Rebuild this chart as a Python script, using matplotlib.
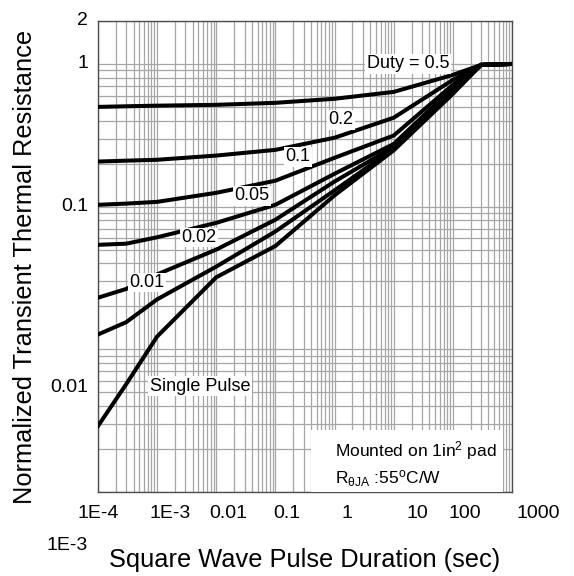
import matplotlib.pyplot as plt
from matplotlib.ticker import LogLocator
from matplotlib.patches import Rectangle
from matplotlib.transforms import blended_transform_factory

plt.rcParams['font.family'] = ['Liberation Sans', 'DejaVu Sans']
plt.rcParams['mathtext.default'] = 'regular'

# pulse duration (sec)
t = [1e-4, 3e-4, 1e-3, 1e-2, 0.1, 1, 10, 100, 300, 1000]

# normalized transient thermal resistance per duty cycle
z_d50 = [0.50, 0.505, 0.51, 0.517, 0.534, 0.57, 0.637, 0.838, 0.985, 1.0]
z_d20 = [0.207, 0.21, 0.213, 0.228, 0.25, 0.304, 0.42, 0.773, 0.985, 1.0]
z_d10 = [0.103, 0.105, 0.108, 0.125, 0.152, 0.22, 0.315, 0.714, 0.985, 1.0]
z_d05 = [0.054, 0.055, 0.061, 0.077, 0.103, 0.17, 0.275, 0.68, 0.985, 1.0]
z_d02 = [0.023, 0.0265, 0.0335, 0.050, 0.081, 0.15, 0.262, 0.658, 0.985, 1.0]
z_d01 = [0.0127, 0.0155, 0.0224, 0.038, 0.067, 0.13, 0.255, 0.637, 0.985, 1.0]
z_single = [0.0029, 0.0057, 0.0123, 0.032, 0.053, 0.12, 0.248, 0.617, 0.985, 1.0]

# curve labels and where they sit
curve_text = ['Duty = 0.5', '0.2', '0.1', '0.05', '0.02', '0.01', 'Single Pulse']
curve_x = [17.5, 1.29, 0.241, 0.0402, 0.0051, 6.75e-4, 0.0053]
curve_y = [1.0, 0.406, 0.224, 0.119, 0.0608, 0.0294, 0.00552]

# axis labels as printed
xtick_text = ['1E-4', '1E-3', '0.01', '0.1', '1', '10', '100', '1000']
xtick_at = [1e-4, 1.65e-3, 0.0158, 0.157, 1.62, 24.8, 161, 2750]
ytick_text = ['2', '1', '0.1', '0.01', '1E-3']
ytick_at = [2, 1, 0.1, 0.0054, 0.00042]

fig = plt.figure(figsize=(5.74, 5.76), dpi=100)
ax = fig.add_axes([98/574, 1-492/576, 414/574, 471/576])

ax.set_xscale('log')
ax.set_yscale('log')
ax.set_xlim(1e-4, 1e3)
ax.set_ylim(1e-3, 2)

ax.xaxis.set_major_locator(LogLocator(base=10, numticks=20))
ax.xaxis.set_minor_locator(LogLocator(base=10, subs=range(2, 10), numticks=20))
ax.yaxis.set_major_locator(LogLocator(base=10, numticks=20))
ax.yaxis.set_minor_locator(LogLocator(base=10, subs=range(2, 10), numticks=20))
ax.grid(True, which='both', color='#a6a6a6', lw=0.9)
ax.set_axisbelow(True)
ax.tick_params(which='both', length=0, labelbottom=False, labelleft=False)
for s in ax.spines.values():
    s.set_color('#4d4d4d')
    s.set_linewidth(1.0)

for z in [z_d50, z_d20, z_d10, z_d05, z_d02, z_d01, z_single]:
    ax.plot(t, z, color='black', lw=2.9, solid_joinstyle='miter', zorder=3)

for txt, x, y in zip(curve_text, curve_x, curve_y):
    ax.text(x, y, txt, fontsize=13, ha='center', va='center', zorder=4,
            bbox=dict(facecolor='white', edgecolor='none', pad=1.0))

# mounting note in the lower right corner
ax.add_patch(Rectangle((0.5145, 0.0), 0.4635, 0.1316, transform=ax.transAxes,
                       facecolor='white', edgecolor='none', zorder=4))
ax.text(0.572, 0.087, 'Mounted on 1in$^2$ pad', transform=ax.transAxes,
        fontsize=12.5, ha='left', va='center', zorder=5)
ax.text(0.572, 0.028, 'R$_{\\theta JA}$ :55$^o$C/W', transform=ax.transAxes,
        fontsize=12.5, ha='left', va='center', zorder=5)

# tick labels
tx = blended_transform_factory(ax.transData, ax.transAxes)
for txt, x in zip(xtick_text, xtick_at):
    ax.text(x, -0.0446, txt, transform=tx, fontsize=14, ha='center', va='center', clip_on=False)
ty = blended_transform_factory(ax.transAxes, ax.transData)
for txt, y in zip(ytick_text, ytick_at):
    ax.text(-10/414, y, txt, transform=ty, fontsize=14, ha='right', va='center', clip_on=False)

fig.text(305/574, 1-560/576, 'Square Wave Pulse Duration (sec)', fontsize=18.3, ha='center', va='center')
fig.text(25/574, 1-267/576, 'Normalized Transient Thermal Resistance', fontsize=18.3,
         ha='center', va='center', rotation=90)

fig.savefig('out.png', dpi=100)
